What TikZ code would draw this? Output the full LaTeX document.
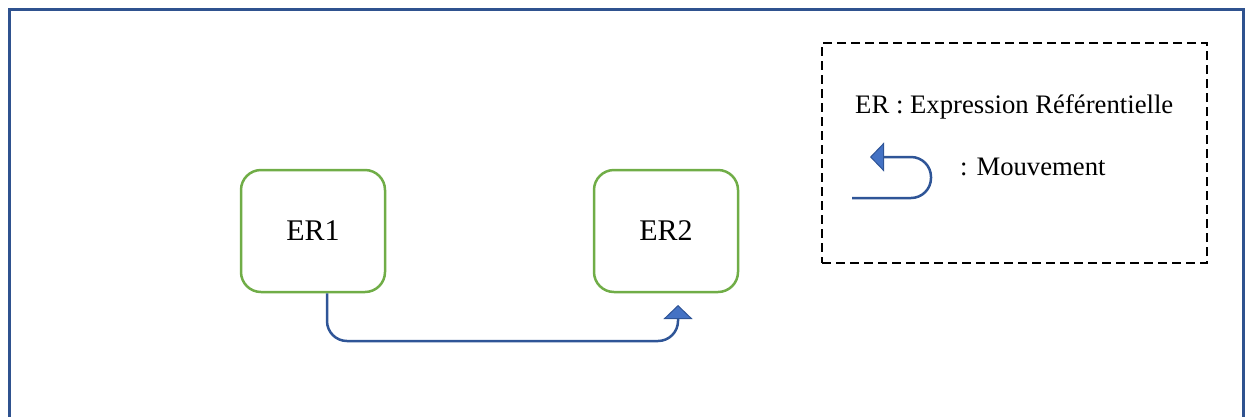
\documentclass[tikz,border=0pt]{standalone}
\usepackage{fontspec}
\setmainfont{Liberation Serif}
\usetikzlibrary{arrows.meta,positioning,calc}
\definecolor{frameblue}{RGB}{47,82,143}
\definecolor{ergreen}{RGB}{112,173,71}
\definecolor{movblue}{RGB}{47,85,151}
\definecolor{headblue}{RGB}{68,114,196}

\begin{document}
\begin{tikzpicture}[x=1pt, y=-1pt, >=Stealth]
\tikzset{
  er/.style={draw=ergreen, line width=2.5pt, rounded corners=20pt, minimum width=144pt, minimum height=122pt, font=\fontsize{30}{36}\selectfont},
  mov/.style={draw=movblue, line width=2.5pt, rounded corners=20pt, -{Triangle[width=29pt, length=14pt, fill=headblue, line width=1pt]}},
  legtext/.style={font=\fontsize{26.7}{32}\selectfont, anchor=base west, inner sep=0pt}
}
\useasboundingbox (0,0) rectangle (1246,416);
% outer frame, open at the bottom
\draw[frameblue, line width=3pt] (9,420) -- (9,9) -- (1243,9) -- (1243,420);
% expressions
\node[er] (er1) at (313,231) {ER1};
\node[er] (er2) at (666,231) {ER2};
\coordinate (tip) at (678,305);
\draw[mov] ([xshift=14pt]er1.south) |- (tip |- 0,341) -- (tip);
% legend
\node[draw, line width=2pt, dash pattern=on 9pt off 5pt, inner sep=0pt, minimum width=385pt, minimum height=220pt] (legend) at (1014.5,153) {};
\node[legtext] (deftext) at (855,113) {ER : Expression Référentielle};
\node[legtext] (movtext) at (960,175) {: Mouvement};
\coordinate (lgstart) at (852,198);
\coordinate (lgend) at (870,157);
\draw[mov] (lgstart) -- (931,198) -- (931,157) -- (lgend);
\end{tikzpicture}
\end{document}
